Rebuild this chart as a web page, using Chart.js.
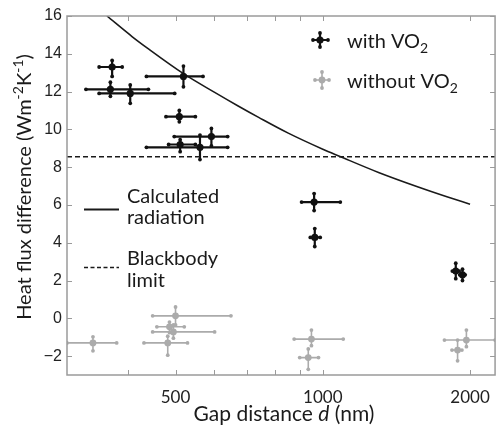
<!DOCTYPE html>
<html>
<head>
<meta charset="utf-8">
<script src="https://cdn.jsdelivr.net/npm/chart.js@4/dist/chart.umd.min.js"></script>
<style>
  html, body { margin: 0; padding: 0; background: #fff; }
  canvas { display: block; }
</style>
</head>
<body>
<canvas id="chart" width="502" height="432"></canvas>
<script>
'use strict';

// axis ticks (gap distance in nm, log scale)
const xTicks = [500, 1000, 2000];
const xMinorTicks = [400, 600, 700, 800, 900];
const yTicks = [-2, 0, 2, 4, 6, 8, 10, 12, 14, 16];

// with VO2 (black), values + error ranges
const withX   = [371, 368, 404, 519, 509, 511, 561, 592, 960, 963, 1870, 1930];
const withY   = [13.3, 12.12, 11.9, 12.8, 10.67, 9.2, 9.05, 9.62, 6.15, 4.28, 2.5, 2.3];
const withXLo = [349, 328, 349, 436, 478, 484, 436, 497, 905, 943, 1840, 1905];
const withXHi = [389, 440, 498, 569, 549, 549, 639, 639, 1086, 988, 1900, 1955];
const withYLo = [12.8, 11.75, 11.38, 12.25, 10.4, 8.82, 8.4, 9.13, 5.7, 3.8, 2.1, 2.0];
const withYHi = [13.65, 12.5, 12.35, 13.35, 11.0, 9.45, 9.7, 10.05, 6.6, 4.75, 2.92, 2.6];

// without VO2 (grey)
const woX   = [339, 500, 486, 495, 482, 948, 934, 1966, 1886];
const woY   = [-1.3, 0.13, -0.45, -0.72, -1.3, -1.1, -2.08, -1.15, -1.68];
const woXLo = [300, 449, 458, 449, 431, 874, 897, 1773, 1837];
const woXHi = [379, 649, 521, 601, 529, 1101, 980, 2250, 1925];
const woYLo = [-1.72, -0.35, -0.75, -1.05, -1.95, -1.45, -2.7, -1.5, -2.25];
const woYHi = [-0.98, 0.6, -0.2, -0.35, -0.95, -0.62, -1.62, -0.62, -1.15];

// calculated radiation curve
const curveX = [362, 408, 438, 519, 600, 670, 741, 850, 1000, 1081, 1300, 1567, 1800, 2000];
const curveY = [16.0, 14.9, 14.3, 12.95, 11.97, 11.25, 10.62, 9.8, 8.95, 8.58, 7.72, 6.95, 6.42, 6.04];

const blackbodyLimit = 8.55;
const xMin = 300, xMax = 2250, yMin = -3, yMax = 16;

const BLACK = '#111111';
const GREY = '#ababab';
const AXIS = '#9a9a9a';
const TEXT_FONT = 'Lato, "Open Sans", sans-serif';

const pts = (xs, ys) => xs.map((x, i) => ({ x, y: ys[i] }));

// draws text runs with sub / superscript / italic parts
function drawRich(ctx, parts, x, y, size, align) {
	const fontFor = (p) => {
		const small = p[1] === 'sub' || p[1] === 'sup';
		return (p[1] === 'i' ? 'italic ' : '') + Math.round(small ? size * 0.68 : size) + 'px ' + TEXT_FONT;
	};
	let w = 0;
	parts.forEach((p) => { ctx.font = fontFor(p); w += ctx.measureText(p[0]).width; });
	let cx = align === 'center' ? x - w / 2 : x;
	ctx.textAlign = 'left';
	ctx.textBaseline = 'alphabetic';
	parts.forEach((p) => {
		ctx.font = fontFor(p);
		const dy = p[1] === 'sub' ? size * 0.26 : p[1] === 'sup' ? -size * 0.38 : 0;
		ctx.fillText(p[0], cx, y + dy);
		cx += ctx.measureText(p[0]).width;
	});
}

function errorMarker(ctx, px, py, x0, x1, y0, y1, color, lw) {
	ctx.strokeStyle = color;
	ctx.fillStyle = color;
	ctx.lineWidth = lw;
	ctx.beginPath();
	ctx.moveTo(x0, py); ctx.lineTo(x1, py);
	ctx.moveTo(px, y0); ctx.lineTo(px, y1);
	ctx.stroke();
	[[x0, py], [x1, py], [px, y0], [px, y1]].forEach(([a, b]) => {
		ctx.beginPath();
		ctx.arc(a, b, 1.9, 0, Math.PI * 2);
		ctx.fill();
	});
}

const errorBars = {
	id: 'errorBars',
	beforeDatasetsDraw(chart) {
		const { ctx, chartArea: a, scales: { x, y } } = chart;
		ctx.save();
		ctx.beginPath();
		ctx.rect(a.left, a.top, a.right - a.left, a.bottom - a.top);
		ctx.clip();
		chart.data.datasets.slice().reverse().forEach((ds) => {
			if (!ds.xLo) return;
			ds.data.forEach((p, i) => {
				errorMarker(ctx,
					x.getPixelForValue(p.x), y.getPixelForValue(p.y),
					x.getPixelForValue(ds.xLo[i]), x.getPixelForValue(ds.xHi[i]),
					y.getPixelForValue(ds.yHi[i]), y.getPixelForValue(ds.yLo[i]),
					ds.pointBackgroundColor, ds.errWidth);
			});
		});
		ctx.restore();
	},
};

const frame = {
	id: 'frame',
	afterDraw(chart) {
		const { ctx, chartArea: a, scales: { x, y } } = chart;
		ctx.save();
		ctx.strokeStyle = AXIS;
		ctx.lineWidth = 1.5;
		ctx.strokeRect(a.left, a.top, a.right - a.left, a.bottom - a.top);

		// inward ticks on all four sides
		ctx.beginPath();
		xTicks.concat(xMinorTicks).forEach((v) => {
			const px = Math.round(x.getPixelForValue(v)) + 0.5;
			ctx.moveTo(px, a.bottom); ctx.lineTo(px, a.bottom - 5);
			ctx.moveTo(px, a.top); ctx.lineTo(px, a.top + 5);
		});
		yTicks.forEach((v) => {
			const py = Math.round(y.getPixelForValue(v)) + 0.5;
			ctx.moveTo(a.left, py); ctx.lineTo(a.left + 5, py);
			ctx.moveTo(a.right, py); ctx.lineTo(a.right - 5, py);
		});
		ctx.lineWidth = 1;
		ctx.stroke();

		// axis titles
		ctx.fillStyle = '#1a1a1a';
		drawRich(ctx, [['Gap distance '], ['d', 'i'], [' (nm)']], (a.left + a.right) / 2 + 3, 421, 21, 'center');
		ctx.save();
		ctx.translate(31, 187);
		ctx.rotate(-Math.PI / 2);
		drawRich(ctx, [['Heat flux difference (Wm'], ['-2', 'sup'], ['K'], ['-1', 'sup'], [')']], 0, 0, 20, 'center');
		ctx.restore();

		// legend, top right
		errorMarker(ctx, 320, 40, 313, 328, 33, 47, BLACK, 2.2);
		ctx.beginPath(); ctx.arc(320, 40, 3.6, 0, Math.PI * 2); ctx.fill();
		errorMarker(ctx, 322, 80, 315, 329, 72, 88, GREY, 1.6);
		ctx.beginPath(); ctx.arc(322, 80, 3.4, 0, Math.PI * 2); ctx.fill();
		ctx.fillStyle = '#1a1a1a';
		drawRich(ctx, [['with VO'], ['2', 'sub']], 347, 48, 20);
		drawRich(ctx, [['without VO'], ['2', 'sub']], 347, 88, 20);

		// legend, lower left
		ctx.strokeStyle = '#1a1a1a';
		ctx.lineWidth = 1.8;
		ctx.beginPath(); ctx.moveTo(84, 209.5); ctx.lineTo(119, 209.5); ctx.stroke();
		ctx.setLineDash([4, 2.5]);
		ctx.lineWidth = 1.5;
		ctx.beginPath(); ctx.moveTo(84, 267.5); ctx.lineTo(119, 267.5); ctx.stroke();
		ctx.setLineDash([]);
		drawRich(ctx, [['Calculated']], 127, 203, 20);
		drawRich(ctx, [['radiation']], 127, 224, 20);
		drawRich(ctx, [['Blackbody']], 127, 265, 20);
		drawRich(ctx, [['limit']], 127, 287, 20);
		ctx.restore();
	},
};

const chart = new Chart(document.getElementById('chart'), {
	type: 'scatter',
	data: {
		datasets: [
			{
				label: 'with VO2',
				data: pts(withX, withY),
				xLo: withXLo, xHi: withXHi, yLo: withYLo, yHi: withYHi,
				pointRadius: 3.6, pointBorderWidth: 0,
				pointBackgroundColor: BLACK, errWidth: 2.2,
			},
			{
				label: 'without VO2',
				data: pts(woX, woY),
				xLo: woXLo, xHi: woXHi, yLo: woYLo, yHi: woYHi,
				pointRadius: 3.4, pointBorderWidth: 0,
				pointBackgroundColor: GREY, errWidth: 1.6,
			},
			{
				label: 'Calculated radiation',
				type: 'line',
				data: pts(curveX, curveY),
				borderColor: '#1a1a1a', borderWidth: 1.6,
				pointRadius: 0, cubicInterpolationMode: 'monotone',
			},
			{
				label: 'Blackbody limit',
				type: 'line',
				data: [{ x: xMin, y: blackbodyLimit }, { x: xMax, y: blackbodyLimit }],
				borderColor: '#1a1a1a', borderWidth: 1.6, borderDash: [5, 3],
				pointRadius: 0,
			},
		],
	},
	options: {
		responsive: false,
		animation: false,
		layout: { padding: { top: 16, right: 1, left: 0, bottom: 0 } },
		plugins: { legend: { display: false }, tooltip: { enabled: false } },
		scales: {
			x: {
				type: 'logarithmic', min: xMin, max: xMax,
				afterBuildTicks: (s) => { s.ticks = xTicks.map((v) => ({ value: v })); },
				afterFit: (s) => { s.height = 57; },
				grid: { display: false, drawTicks: false },
				border: { display: false },
				ticks: {
					autoSkip: false, maxRotation: 0, padding: 12, color: '#222',
					font: { family: TEXT_FONT, size: 17 },
					callback: (v) => String(v),
				},
			},
			y: {
				min: yMin, max: yMax,
				afterBuildTicks: (s) => { s.ticks = yTicks.map((v) => ({ value: v })); },
				afterFit: (s) => { s.width = 67; },
				grid: { display: false, drawTicks: false },
				border: { display: false },
				ticks: {
					autoSkip: false, padding: 5, color: '#222',
					font: { family: '"Liberation Sans", Arial, sans-serif', size: 16 },
					callback: (v) => (v < 0 ? '\u2212' + Math.abs(v) : String(v)),
				},
			},
		},
	},
	plugins: [errorBars, frame],
});
</script>
</body>
</html>
